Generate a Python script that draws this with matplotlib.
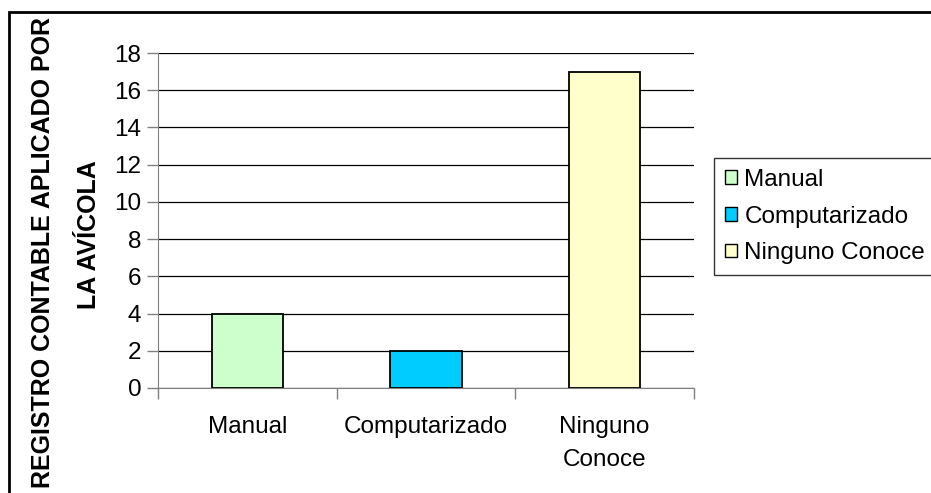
import matplotlib.pyplot as plt
from matplotlib.patches import Rectangle, Patch

categories = ["Manual", "Computarizado", "Ninguno\nConoce"]
legend_names = ["Manual", "Computarizado", "Ninguno Conoce"]
values = [4, 2, 17]
colors = ["#CCFFCC", "#00CCFF", "#FFFFCC"]
yticks = [0, 2, 4, 6, 8, 10, 12, 14, 16, 18]

plt.rcParams['font.family'] = ['Liberation Sans', 'DejaVu Sans']

fig = plt.figure(figsize=(9.31, 4.93), dpi=100)
W, H = 931, 493
ax = fig.add_axes([158 / W, 1 - 388 / H, 536 / W, 335 / H])

x = range(len(values))
ax.bar(x, values, width=0.4, color=colors, edgecolor="black", linewidth=1.3, zorder=3)

ax.set_xlim(-0.5, 2.5)
ax.set_ylim(0, 18)
ax.set_yticks(yticks)
ax.yaxis.grid(True, color="black", linewidth=0.9, zorder=0)
ax.set_axisbelow(True)

ax.set_xticks([-0.5, 0.5, 1.5, 2.5])
ax.set_xticklabels([])
ax.set_xticks(list(x), minor=True)
ax.set_xticklabels(categories, minor=True, fontsize=17.5, linespacing=1.65)
ax.tick_params(axis="x", which="minor", length=0, pad=20)
ax.tick_params(axis="x", which="major", length=8, color="#808080", width=1)
ax.tick_params(axis="y", length=8, color="#808080", width=1, labelsize=17.5, pad=4)

for s in ["top", "right"]:
    ax.spines[s].set_visible(False)
ax.spines["left"].set_color("#808080")
ax.spines["bottom"].set_color("#808080")

fig.text(43 / W, 1 - 252 / H, "REGISTRO CONTABLE APLICADO POR", rotation=90,
         ha="center", va="center", fontsize=18, fontweight="bold")
fig.text(89 / W, 1 - 235 / H, "LA AVÍCOLA", rotation=90,
         ha="center", va="center", fontsize=18, fontweight="bold")

handles = [Patch(facecolor=c, edgecolor="black", linewidth=1) for c in colors]
leg = fig.legend(handles, legend_names, loc="upper left",
                 bbox_to_anchor=(714 / W, 1 - 158 / H), fontsize=17.5,
                 frameon=True, fancybox=False, handlelength=0.5, handleheight=0.5,
                 handletextpad=0.3, labelspacing=0.6, borderpad=0.45, borderaxespad=0)
leg.get_frame().set_edgecolor("black")
leg.get_frame().set_linewidth(1)

fig.patches.append(Rectangle((9 / W, -0.1), 1.2, 1 - 12 / H + 0.1, transform=fig.transFigure,
                             fill=False, edgecolor="black", linewidth=2, clip_on=False))

fig.savefig("out.png", dpi=100)
